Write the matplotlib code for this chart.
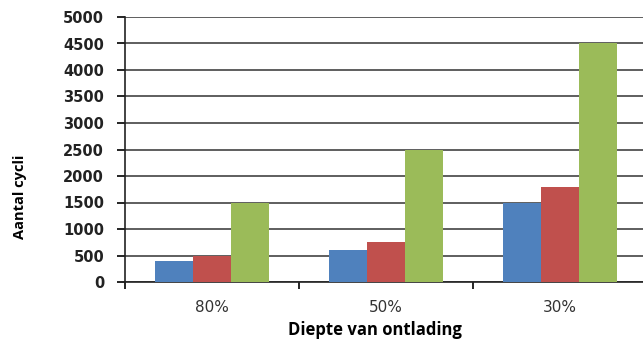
import numpy as np
import matplotlib
matplotlib.use('Agg')
import matplotlib.pyplot as plt

categories = ['80%', '50%', '30%']
series_a = [400, 600, 1500]
series_b = [500, 750, 1800]
series_c = [1500, 2500, 4500]
colors = ['#4F81BD', '#C0504D', '#9BBB59']
yticks = list(range(0, 5001, 500))

fig = plt.figure(figsize=(6.43, 3.40), dpi=100)
ax = fig.add_axes([125 / 643, 1 - 282 / 340, 522 / 643, 265 / 340])

x = np.arange(len(categories))
w = 0.22
for i, (vals, c) in enumerate(zip([series_a, series_b, series_c], colors)):
    ax.bar(x + (i - 1) * w, vals, width=w, color=c, zorder=3)

ax.set_xlim(-0.5, 2.5)
ax.set_ylim(0, 5000)
ax.set_yticks(yticks)
ax.set_yticklabels([str(v) for v in yticks], fontsize=10.5, fontweight='bold', color='#222222')
ax.yaxis.grid(True, color='#333333', linewidth=1.1, zorder=0)
ax.set_axisbelow(True)

ax.set_xticks(x)
ax.set_xticklabels(categories, fontsize=11, color='#333333')
ax.tick_params(axis='x', length=0, pad=13)
ax.set_xticks([-0.5, 0.5, 1.5], minor=True)
ax.tick_params(axis='x', which='minor', length=5, width=1.2, direction='out')
ax.tick_params(axis='y', length=6, width=1.2, pad=9)

for s in ['top', 'right']:
    ax.spines[s].set_visible(False)
for s in ['left', 'bottom']:
    ax.spines[s].set_linewidth(1.2)
    ax.spines[s].set_color('#222222')

fig.text(20 / 643, 1 - 197 / 340, 'Aantal cycli', rotation=90, fontsize=10.5,
         family=['Open Sans', 'DejaVu Sans'], fontweight='bold', ha='center', va='center')
fig.text(375 / 643, 1 - 330 / 340, 'Diepte van ontlading', fontsize=12,
         family=['Open Sans', 'DejaVu Sans'], fontweight='bold', ha='center', va='center')

fig.savefig('out.png', dpi=100)
